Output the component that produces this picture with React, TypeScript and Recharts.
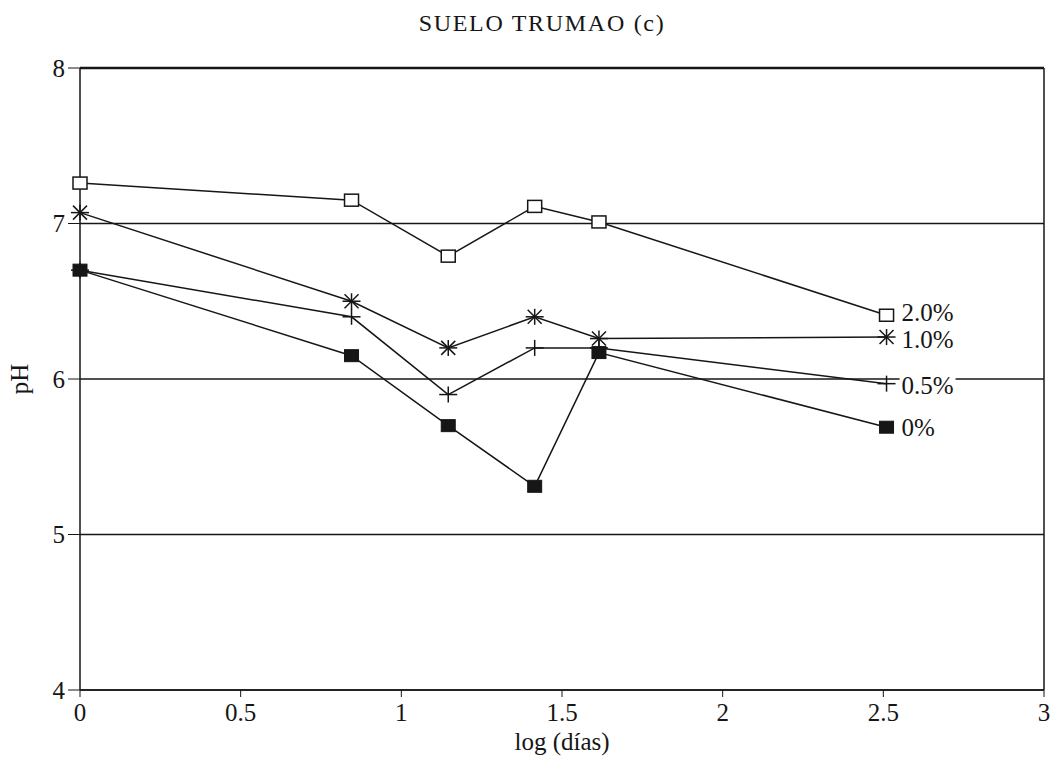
import React from 'react';
import { LineChart, Line, XAxis, YAxis, CartesianGrid, ReferenceLine } from 'recharts';

// log(días) sampling points and pH per dose
const logDias = [0, 0.845, 1.146, 1.415, 1.615, 2.51];
const ph20 = [7.26, 7.15, 6.79, 7.11, 7.01, 6.41];
const ph10 = [7.07, 6.5, 6.2, 6.4, 6.26, 6.27];
const ph05 = [6.7, 6.4, 5.9, 6.2, 6.2, 5.97];
const ph00 = [6.7, 6.15, 5.7, 5.31, 6.17, 5.69];
const xTicks = [0, 0.5, 1, 1.5, 2, 2.5, 3];
const yTicks = [4, 5, 6, 7, 8];
const seriesNames = ['2.0%', '1.0%', '0.5%', '0%'];

const data = logDias.map((x, i) => ({ x, p20: ph20[i], p10: ph10[i], p05: ph05[i], p00: ph00[i] }));

const FONT = '"Liberation Serif", "Times New Roman", serif';
const INK = '#161616';
const last = logDias.length - 1;

type Kind = 'open' | 'star' | 'plus' | 'filled';

function markerShape(kind: Kind, cx: number, cy: number) {
  switch (kind) {
    case 'open':
      return <rect x={cx - 7} y={cy - 6} width={14} height={12} fill="#fff" stroke={INK} strokeWidth={1.5} />;
    case 'filled':
      return <rect x={cx - 7} y={cy - 6} width={14} height={12} fill={INK} stroke={INK} strokeWidth={1} />;
    case 'star':
      return (
        <g stroke={INK} strokeWidth={1.5}>
          <line x1={cx - 9} y1={cy} x2={cx + 9} y2={cy} />
          <line x1={cx} y1={cy - 8} x2={cx} y2={cy + 8} />
          <line x1={cx - 7} y1={cy - 7} x2={cx + 7} y2={cy + 7} />
          <line x1={cx - 7} y1={cy + 7} x2={cx + 7} y2={cy - 7} />
        </g>
      );
    default:
      return (
        <g stroke={INK} strokeWidth={1.5}>
          <line x1={cx - 9} y1={cy} x2={cx + 9} y2={cy} />
          <line x1={cx} y1={cy - 8} x2={cx} y2={cy + 8} />
        </g>
      );
  }
}

// end-of-line label drawn next to the last marker; dy nudges tight pairs apart
const makeDot = (kind: Kind, name: string, dy = 0) => (props: any) => {
  const { cx, cy, index } = props;
  if (cx == null || cy == null) return <g key={`e-${index}`} />;
  return (
    <g key={`${name}-${index}`}>
      {markerShape(kind, cx, cy)}
      {index === last && (
        <g>
          <rect x={cx + 13} y={cy + dy - 11} width={name.length * 14} height={22} fill="#fff" />
          <text x={cx + 15} y={cy + dy + 8} fontFamily={FONT} fontSize={25} fill={INK}>
            {name}
          </text>
        </g>
      )}
    </g>
  );
};

export default function App() {
  return (
    <div style={{ position: 'absolute', left: 0, top: 0, width: 1053, height: 762, background: '#fff' }}>
      <div
        style={{
          position: 'absolute',
          left: 0,
          width: 1084,
          top: 11,
          textAlign: 'center',
          fontFamily: FONT,
          fontSize: 24,
          lineHeight: '24px',
          letterSpacing: '1.7px',
          color: INK,
        }}
      >
        SUELO TRUMAO (c)
      </div>
      <LineChart width={1053} height={762} data={data} margin={{ top: 68, right: 9, bottom: 0, left: 0 }}>
        <CartesianGrid vertical={false} stroke={INK} strokeWidth={1.5} />
        <XAxis
          dataKey="x"
          type="number"
          domain={[0, 3]}
          ticks={xTicks}
          height={72}
          tickSize={7}
          tickMargin={6}
          axisLine={{ stroke: INK, strokeWidth: 1.5 }}
          tickLine={{ stroke: INK }}
          tick={{ fill: INK, fontSize: 25, fontFamily: FONT }}
          label={{ value: 'log (días)', position: 'insideBottom', offset: 12, fill: INK, fontSize: 25, fontFamily: FONT }}
        />
        <YAxis
          type="number"
          domain={[4, 8]}
          ticks={yTicks}
          width={80}
          tickSize={12}
          tickMargin={3}
          axisLine={{ stroke: INK, strokeWidth: 1.5 }}
          tickLine={{ stroke: INK }}
          tick={{ fill: INK, fontSize: 25, fontFamily: FONT }}
          label={{
            value: 'pH',
            angle: -90,
            position: 'insideLeft',
            offset: 19,
            fill: INK,
            fontSize: 25,
            fontFamily: FONT,
            style: { textAnchor: 'middle' },
          }}
        />
        <ReferenceLine y={8} stroke={INK} strokeWidth={2.5} />
        <ReferenceLine x={3} stroke={INK} strokeWidth={1.5} />
        <Line dataKey="p20" stroke={INK} strokeWidth={1.5} dot={makeDot('open', seriesNames[0], -2)} isAnimationActive={false} />
        <Line dataKey="p10" stroke={INK} strokeWidth={1.5} dot={makeDot('star', seriesNames[1], 3)} isAnimationActive={false} />
        <Line dataKey="p05" stroke={INK} strokeWidth={1.5} dot={makeDot('plus', seriesNames[2], 2)} isAnimationActive={false} />
        <Line dataKey="p00" stroke={INK} strokeWidth={1.5} dot={makeDot('filled', seriesNames[3], 1)} isAnimationActive={false} />
      </LineChart>
    </div>
  );
}
